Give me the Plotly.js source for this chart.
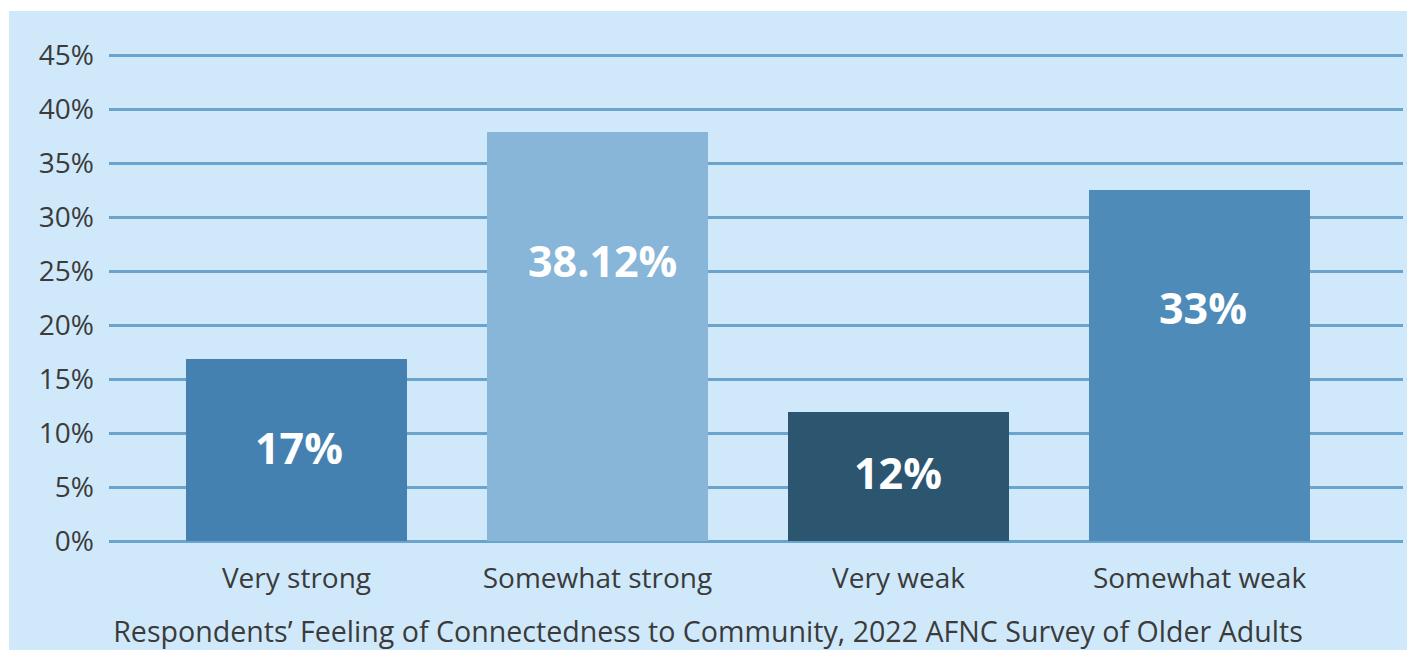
<!DOCTYPE html>
<html>
<head>
<meta charset="utf-8">
<script src="https://cdn.plot.ly/plotly-3.0.1.min.js"></script>
<style>
  html, body { margin: 0; padding: 0; background: #ffffff; width: 1411px; height: 650px; overflow: hidden; }
  #frame { position: absolute; left: 9px; top: 11px; width: 1398px; height: 639px; background: #cfe9fb; }
  #chart { width: 1398px; height: 639px; }
</style>
</head>
<body>
<div id="frame"><div id="chart"></div></div>
<script>
// ---- data ----
const categories = ["Very strong", "Somewhat strong", "Very weak", "Somewhat weak"];
const values = [16.9, 37.9, 12.0, 32.5];
const valueLabels = ["17%", "38.12%", "12%", "33%"];
const yTickValues = [0, 5, 10, 15, 20, 25, 30, 35, 40, 45];
const yTickLabels = ["0%", "5%", "10%", "15%", "20%", "25%", "30%", "35%", "40%", "45%"];
const chartTitle = "Respondents\u2019 Feeling of Connectedness to Community, 2022 AFNC Survey of Older Adults";

// ---- styling ----
const barColors = ["#4581b0", "#87b6d8", "#2c5570", "#4e8bb8"];
const labelHeights = [8.7, 26.0, 6.35, 21.7]; // vertical placement of in-bar labels (axis units)
const labelShift = [3, 5, 0, 4];               // small horizontal nudges (px)
const textColor = "#3b3b3b";
const gridColor = "#6aa4cc";
const bg = "#cfe9fb";

const trace = {
  type: "bar",
  x: categories,
  y: values,
  width: 0.7342,
  marker: { color: barColors, line: { width: 0 } },
  hoverinfo: "skip"
};

const annotations = categories.map((c, i) => ({
  x: c, y: labelHeights[i], xref: "x", yref: "y",
  text: valueLabels[i], showarrow: false,
  xanchor: "center", yanchor: "middle", xshift: labelShift[i],
  font: { family: "Open Sans", size: 43, color: "#ffffff", weight: 700 }
}));

const layout = {
  width: 1398, height: 639,
  margin: { l: 100, r: 4, t: 22.7, b: 97.9, pad: 0 },
  paper_bgcolor: bg,
  plot_bgcolor: bg,
  showlegend: false,
  bargap: 0,
  title: {
    text: chartTitle,
    xref: "container", yref: "container",
    x: 0.5, xanchor: "center",
    y: 0.028, yanchor: "middle",
    font: { family: "Open Sans", size: 28.6, color: textColor }
  },
  xaxis: {
    type: "category",
    range: [-0.6229, 3.6761],
    showgrid: false, zeroline: false, showline: false,
    ticks: "",
    ticklabelstandoff: 7,
    tickfont: { family: "Open Sans", size: 28, color: textColor },
    fixedrange: true
  },
  yaxis: {
    range: [-1, 47],
    tickvals: yTickValues,
    ticktext: yTickLabels,
    showgrid: true, gridcolor: gridColor, gridwidth: 3,
    zeroline: false, showline: false,
    ticks: "",
    ticklabelstandoff: 14,
    tickfont: { family: "Open Sans", size: 28, color: textColor },
    fixedrange: true
  },
  annotations: annotations
};

Plotly.newPlot("chart", [trace], layout, { displayModeBar: false, staticPlot: true });
</script>
</body>
</html>
